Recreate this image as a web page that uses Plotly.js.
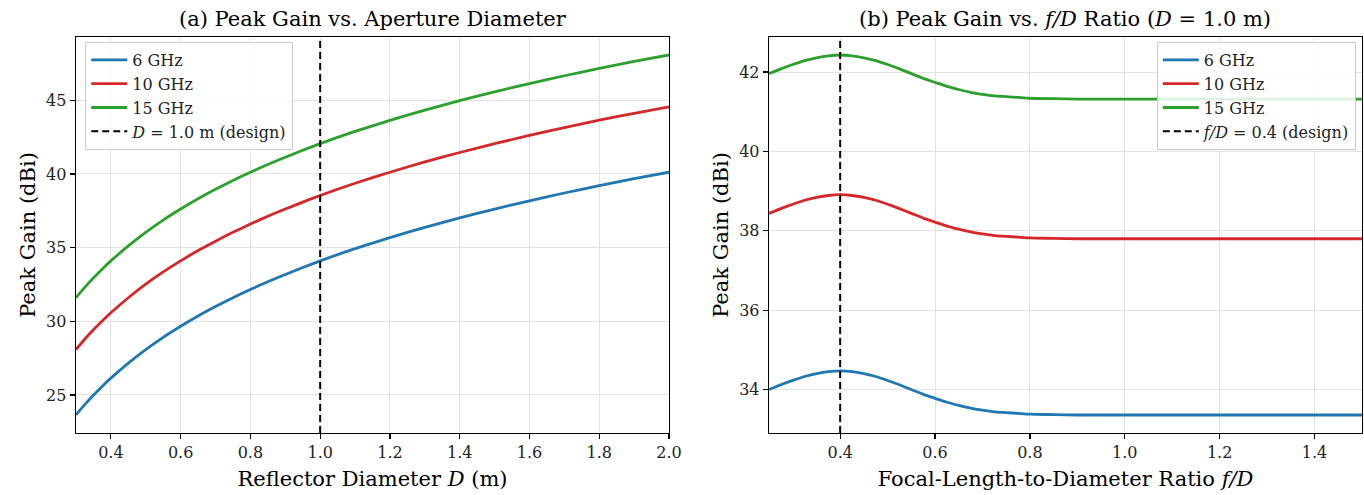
<!DOCTYPE html>
<html>
<head>
<meta charset="utf-8">
<script src="https://cdn.plot.ly/plotly-3.0.1.min.js"></script>
<style>html,body{margin:0;padding:0;background:#fff;}#chart{width:1364px;height:495px;}</style>
</head>
<body>
<div id="chart"></div>
<script>
// ---- Panel (a): peak gain vs reflector diameter ----
const diameters = [0.30, 0.325, 0.35, 0.375, 0.40, 0.45, 0.50, 0.55, 0.60, 0.65, 0.70, 0.75, 0.80, 0.85, 0.90, 0.95, 1.00, 1.10, 1.20, 1.30, 1.40, 1.50, 1.60, 1.70, 1.80, 1.90, 2.00];
const gainD_6GHz  = [23.64, 24.34, 24.98, 25.58, 26.14, 27.16, 28.08, 28.91, 29.66, 30.36, 31.00, 31.60, 32.16, 32.69, 33.18, 33.65, 34.10, 34.93, 35.68, 36.38, 37.02, 37.62, 38.18, 38.71, 39.21, 39.68, 40.12];
const gainD_10GHz = [28.08, 28.78, 29.42, 30.02, 30.58, 31.60, 32.52, 33.35, 34.10, 34.80, 35.44, 36.04, 36.60, 37.13, 37.62, 38.09, 38.54, 39.37, 40.12, 40.82, 41.46, 42.06, 42.62, 43.15, 43.65, 44.12, 44.56];
const gainD_15GHz = [31.60, 32.30, 32.94, 33.54, 34.10, 35.12, 36.04, 36.87, 37.62, 38.32, 38.96, 39.56, 40.12, 40.65, 41.14, 41.61, 42.06, 42.89, 43.64, 44.34, 44.98, 45.58, 46.14, 46.67, 47.17, 47.64, 48.08];
const designD = 1.0;

// ---- Panel (b): peak gain vs f/D ratio (D = 1.0 m) ----
const fdRatios = [0.25, 0.275, 0.30, 0.325, 0.35, 0.375, 0.40, 0.425, 0.45, 0.475, 0.50, 0.525, 0.55, 0.575, 0.60, 0.625, 0.65, 0.675, 0.70, 0.725, 0.75, 0.775, 0.80, 0.85, 0.90, 1.00, 1.10, 1.20, 1.30, 1.40, 1.50];
const gainFD_6GHz  = [34.00, 34.12, 34.23, 34.33, 34.40, 34.45, 34.47, 34.45, 34.40, 34.33, 34.23, 34.12, 34.00, 33.88, 33.78, 33.68, 33.60, 33.53, 33.48, 33.44, 33.42, 33.40, 33.38, 33.37, 33.36, 33.36, 33.36, 33.36, 33.36, 33.36, 33.36];
const gainFD_10GHz = [38.44, 38.56, 38.67, 38.77, 38.84, 38.89, 38.91, 38.89, 38.84, 38.77, 38.67, 38.56, 38.44, 38.32, 38.22, 38.12, 38.04, 37.97, 37.92, 37.88, 37.86, 37.84, 37.82, 37.81, 37.80, 37.80, 37.80, 37.80, 37.80, 37.80, 37.80];
const gainFD_15GHz = [41.96, 42.08, 42.19, 42.29, 42.36, 42.41, 42.43, 42.41, 42.36, 42.29, 42.19, 42.08, 41.96, 41.84, 41.74, 41.64, 41.56, 41.49, 41.44, 41.40, 41.38, 41.36, 41.34, 41.33, 41.32, 41.32, 41.32, 41.32, 41.32, 41.32, 41.32];
const designFD = 0.4;

const seriesNames = ["6 GHz", "10 GHz", "15 GHz"];
const seriesColors = ["#1f77b4", "#d62728", "#2ca02c"];
const xTicksA = [0.4, 0.6, 0.8, 1.0, 1.2, 1.4, 1.6, 1.8, 2.0];
const yTicksA = [25, 30, 35, 40, 45];
const xTicksB = [0.4, 0.6, 0.8, 1.0, 1.2, 1.4];
const yTicksB = [34, 36, 38, 40, 42];

function padRange(arrs) {
  const all = [].concat(...arrs);
  const lo = Math.min(...all), hi = Math.max(...all);
  const p = (hi - lo) * 0.05;
  return [lo - p, hi + p];
}
const yRangeA = padRange([gainD_6GHz, gainD_10GHz, gainD_15GHz]);
const yRangeB = padRange([gainFD_6GHz, gainFD_10GHz, gainFD_15GHz]);

const FONT = "DejaVu Serif, serif";
const traces = [];
[gainD_6GHz, gainD_10GHz, gainD_15GHz].forEach((ys, i) => {
  traces.push({x: diameters, y: ys, type: "scatter", mode: "lines", name: seriesNames[i],
    line: {color: seriesColors[i], width: 2.8, shape: "spline", smoothing: 0.6}, xaxis: "x", yaxis: "y", legend: "legend"});
});
traces.push({x: [designD, designD], y: yRangeA, type: "scatter", mode: "lines",
  name: "<i>D</i> = 1.0 m (design)", line: {color: "#000", width: 2, dash: "7px,4px"}, xaxis: "x", yaxis: "y", legend: "legend"});
[gainFD_6GHz, gainFD_10GHz, gainFD_15GHz].forEach((ys, i) => {
  traces.push({x: fdRatios, y: ys, type: "scatter", mode: "lines", name: seriesNames[i],
    line: {color: seriesColors[i], width: 2.8, shape: "spline", smoothing: 0.6}, xaxis: "x2", yaxis: "y2", legend: "legend2"});
});
traces.push({x: [designFD, designFD], y: yRangeB, type: "scatter", mode: "lines",
  name: "<i>f/D</i> = 0.4 (design)", line: {color: "#000", width: 2, dash: "7px,4px"}, xaxis: "x2", yaxis: "y2", legend: "legend2"});

const axisCommon = {
  showline: true, linecolor: "#000", linewidth: 1.3, mirror: true,
  ticks: "outside", ticklen: 5, tickwidth: 1.2, tickcolor: "#000",
  showgrid: true, gridcolor: "#e3e3e3", gridwidth: 1, zeroline: false,
  tickfont: {family: FONT, size: 16, color: "#222"}
};
const legendCommon = {
  bgcolor: "rgba(255,255,255,0.85)", bordercolor: "#cccccc", borderwidth: 1,
  font: {family: FONT, size: 16, color: "#222"}, yanchor: "top", tracegroupgap: 0, itemwidth: 36
};

const layout = {
  width: 1364, height: 495,
  margin: {l: 0, r: 0, t: 0, b: 0},
  paper_bgcolor: "#fff", plot_bgcolor: "#fff",
  font: {family: FONT, color: "#000"},
  showlegend: true,
  xaxis: Object.assign({}, axisCommon, {domain: [0.0557, 0.4905], range: [0.3, 2.0], tickvals: xTicksA, ticktext: xTicksA.map(v => v.toFixed(1)),
    title: {text: "Reflector Diameter <i>D</i> (m)", font: {family: FONT, size: 21}, standoff: 9}, anchor: "y"}),
  yaxis: Object.assign({}, axisCommon, {domain: [0.1253, 0.9253], range: yRangeA, tickvals: yTicksA,
    title: {text: "Peak Gain (dBi)", font: {family: FONT, size: 21}, standoff: 4}, anchor: "x"}),
  xaxis2: Object.assign({}, axisCommon, {domain: [0.5638, 0.9985], range: [0.25, 1.5], tickvals: xTicksB, ticktext: xTicksB.map(v => v.toFixed(1)),
    title: {text: "Focal-Length-to-Diameter Ratio <i>f/D</i>", font: {family: FONT, size: 21}, standoff: 9}, anchor: "y2"}),
  yaxis2: Object.assign({}, axisCommon, {domain: [0.1253, 0.9253], range: yRangeB, tickvals: yTicksB,
    title: {text: "Peak Gain (dBi)", font: {family: FONT, size: 21}, standoff: 4}, anchor: "x2"}),
  legend: Object.assign({}, legendCommon, {x: 0.0625, xanchor: "left", y: 1 - 42/495}),
  legend2: Object.assign({}, legendCommon, {x: 0.994, xanchor: "right", y: 1 - 42/495}),
  annotations: [
    {text: "(a) Peak Gain vs. Aperture Diameter", xref: "x domain", yref: "paper", x: 0.5, y: 1 - 19/495,
     showarrow: false, xanchor: "center", yanchor: "middle", font: {family: FONT, size: 21, color: "#000"}},
    {text: "(b) Peak Gain vs. <i>f/D</i> Ratio (<i>D</i> = 1.0 m)", xref: "x2 domain", yref: "paper", x: 0.5, y: 1 - 19/495,
     showarrow: false, xanchor: "center", yanchor: "middle", font: {family: FONT, size: 21, color: "#000"}}
  ]
};

Plotly.newPlot("chart", traces, layout, {displayModeBar: false, staticPlot: true});
</script>
</body>
</html>
